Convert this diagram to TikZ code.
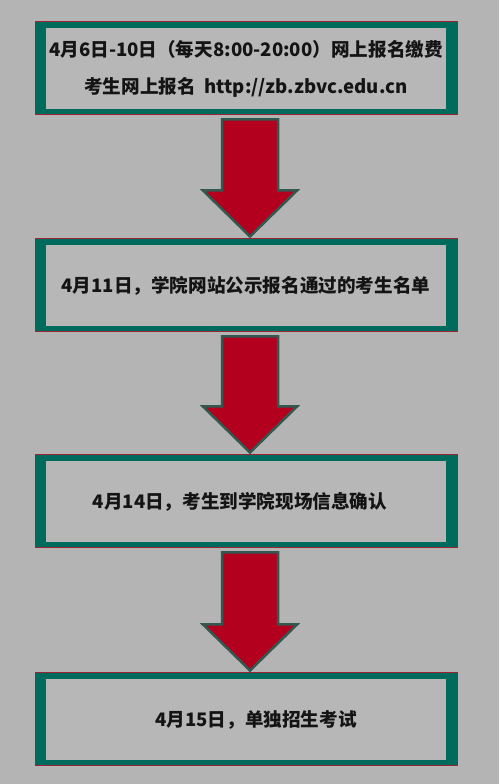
\documentclass[tikz,border=0pt]{standalone}
\usepackage{fontspec}
\setmainfont{Noto Sans CJK SC}
\usetikzlibrary{calc}
\definecolor{bggray}{HTML}{B4B4B4}
\definecolor{boxgray}{HTML}{B7B7B7}
\definecolor{frameteal}{HTML}{006B5C}
\definecolor{framered}{HTML}{9A2434}
\definecolor{arrowred}{HTML}{B3001F}
\definecolor{arrowedge}{HTML}{32584F}
\begin{document}
\begin{tikzpicture}[x=1pt,y=1pt,
		stage/.style={minimum width=422pt,minimum height=93pt,inner sep=0pt,
			fill=frameteal,draw=framered,line width=1pt,align=center,
			font=\fontsize{18.6}{37}\selectfont\bfseries,text=black!92,
			path picture={\fill[boxgray] ($(path picture bounding box.south west)+(11pt,6pt)$) rectangle ($(path picture bounding box.north east)+(-11pt,-6pt)$);}},
		downarrow/.style={fill=arrowred,draw=arrowedge,line width=2.5pt,line join=miter}]
			\fill[bggray] (0,0) rectangle (499,784);
			\useasboundingbox (0,0) rectangle (499,784);

			\node (b1) at (246,715.5) [stage] {4月6日-10日（每天8:00-20:00）网上报名缴费\\考生网上报名\ \ http://zb.zbvc.edu.cn};
			\node (b2) at (246,498.5) [stage] {4月11日，学院网站公示报名通过的考生名单};
			\node (b3) at (246,282.5) [stage] {\hspace*{-12pt}4月14日，考生到学院现场信息确认};
			\node (b4) at (246,64.5) [stage] {\hspace*{20pt}4月15日，单独招生考试};

			\foreach \a/\b in {b1/b2,b2/b3,b3/b4}
				\draw[downarrow] let \p1=(\a.south), \p2=(\b.north) in
					(222pt,\y1-4pt) -- (278pt,\y1-4pt) -- (278pt,\y2+48pt) -- (297pt,\y2+48pt)
					-- (250pt,\y2+2pt) -- (203pt,\y2+48pt) -- (222pt,\y2+48pt) -- cycle;
		\end{tikzpicture}
\end{document}
